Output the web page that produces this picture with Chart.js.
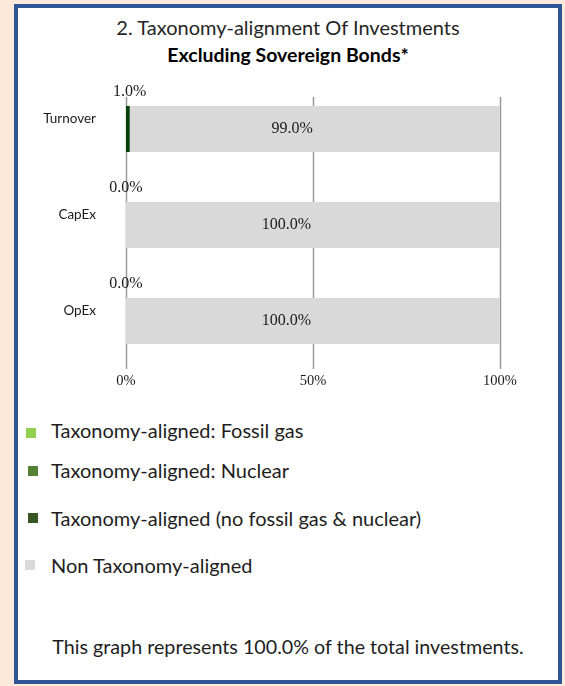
<!DOCTYPE html>
<html>
<head>
<meta charset="utf-8">
<script src="https://cdn.jsdelivr.net/npm/chart.js@4"></script>
<style>
  body { margin: 0; background: #fde9d9; width: 565px; height: 686px; overflow: hidden; }
  .box { position: absolute; left: 14px; top: 4px; width: 548px; height: 680px; box-sizing: border-box;
         border: 4px solid #2f5597; background: #fff; font-family: Lato, sans-serif; color: #1e1e1e; }
  .t1 { position: absolute; left: 0; width: 540px; top: 7px; text-align: center; font-size: 20px; font-weight: 400; color: #262626; }
  .t2 { position: absolute; left: 0; width: 540px; top: 35px; text-align: center; font-size: 19.5px; font-weight: 700; color: #000; }
  .chartWrap { position: absolute; left: 0; top: 52px; width: 540px; height: 340px; }
  .leg { position: absolute; font-size: 20px; }
  .leg span { position: absolute; width: 10px; height: 10px; }
  .foot { position: absolute; left: 0; width: 540px; top: 627px; text-align: center; font-size: 19.7px; }
</style>
</head>
<body>
<div class="box">
  <div class="t1">2. Taxonomy-alignment Of Investments</div>
  <div class="t2">Excluding Sovereign Bonds*</div>
  <div class="chartWrap"><canvas id="myChart" width="540" height="340"></canvas></div>
  <div id="legend"></div>
  <div class="foot">This graph represents 100.0% of the total investments.</div>
</div>
<script>
const categories = ["Turnover", "CapEx", "OpEx"];
const fossilGas = [0, 0, 0];
const nuclear = [0, 0, 0];
const alignedOther = [1.0, 0.0, 0.0];
const nonAligned = [99.0, 100.0, 100.0];
const xTicks = [0, 50, 100];

const seriesNames = [
  "Taxonomy-aligned: Fossil gas",
  "Taxonomy-aligned: Nuclear",
  "Taxonomy-aligned (no fossil gas & nuclear)",
  "Non Taxonomy-aligned"
];
const seriesColors = ["#92d050", "#548235", "#00400a", "#d9d9d9"];
const legendColors = ["#92d050", "#548235", "#375623", "#d9d9d9"];

// legend rows drawn as html, like the original
const legendRows = [
  { top: 410, mx: 8, my: 10 },
  { top: 450, mx: 10, my: 8 },
  { top: 498, mx: 10, my: 7 },
  { top: 545, mx: 7, my: 7 }
];
let legendHtml = "";
seriesNames.forEach((name, i) => {
  const r = legendRows[i];
  legendHtml += `<div class="leg" style="left:0;top:${r.top}px;width:540px;height:26px">
    <span style="left:${r.mx}px;top:${r.my}px;background:${legendColors[i]}"></span>
    <div style="position:absolute;left:33px;top:0">${name}</div></div>`;
});
document.getElementById("legend").innerHTML = legendHtml;

let gridLines = {
  id: "gridLines",
  beforeDatasetsDraw(chart) {
    const ctx = chart.ctx;
    const x = chart.scales.x;
    const area = chart.chartArea;
    ctx.save();
    ctx.strokeStyle = "#9a9a9a";
    ctx.lineWidth = 1.5;
    xTicks.forEach(t => {
      const px = Math.round(x.getPixelForValue(t)) + 0.5;
      ctx.beginPath();
      ctx.moveTo(px, area.top + 16);
      ctx.lineTo(px, area.bottom);
      ctx.stroke();
    });
    ctx.restore();
  }
};

let valueLabels = {
  id: "valueLabels",
  afterDatasetsDraw(chart) {
    const ctx = chart.ctx;
    ctx.save();
    ctx.font = "16px 'Liberation Serif', serif";
    ctx.fillStyle = "#1a1a1a";
    ctx.textBaseline = "middle";
    ctx.textAlign = "center";
    chart.getDatasetMeta(2).data.forEach((bar, i) => {
      ctx.fillText(alignedOther[i].toFixed(1) + "%", bar.x, bar.y - bar.height / 2 - 14);
    });
    ctx.textAlign = "right";
    chart.getDatasetMeta(3).data.forEach((bar, i) => {
      ctx.fillText(nonAligned[i].toFixed(1) + "%", (bar.x + bar.base) / 2 - 2, bar.y);
    });
    ctx.restore();
  }
};

let ctx = document.getElementById("myChart").getContext("2d");
let chart = new Chart(ctx, {
  type: "bar",
  data: {
    labels: categories,
    datasets: [fossilGas, nuclear, alignedOther, nonAligned].map((d, i) => ({
      label: seriesNames[i],
      data: d,
      backgroundColor: seriesColors[i],
      borderWidth: 0,
      barPercentage: 0.48,
      categoryPercentage: 1
    }))
  },
  options: {
    indexAxis: "y",
    responsive: false,
    animation: false,
    layout: { padding: { top: 21, right: 58, left: 0, bottom: 0 } },
    plugins: { legend: { display: false }, tooltip: { enabled: false } },
    scales: {
      x: {
        stacked: true,
        min: 0,
        max: 100,
        afterBuildTicks: s => { s.ticks = xTicks.map(v => ({ value: v })); },
        afterFit: s => { s.height = 31; s.paddingLeft = 0; s.paddingRight = 0; },
        grid: { display: false, drawTicks: false },
        border: { display: false },
        ticks: {
          padding: 3,
          color: "#1a1a1a",
          font: { family: "'Liberation Serif', serif", size: 14.5 },
          callback: v => v + "%"
        }
      },
      y: {
        stacked: true,
        afterFit: s => { s.width = 108; s.paddingTop = 0; s.paddingBottom = 0; },
        grid: { display: false, drawTicks: false },
        border: { display: false },
        ticks: {
          padding: 30,
          labelOffset: -10,
          color: "#1a1a1a",
          font: { family: "Lato, sans-serif", size: 13.5 }
        }
      }
    }
  },
  plugins: [gridLines, valueLabels]
});
</script>
</body>
</html>
